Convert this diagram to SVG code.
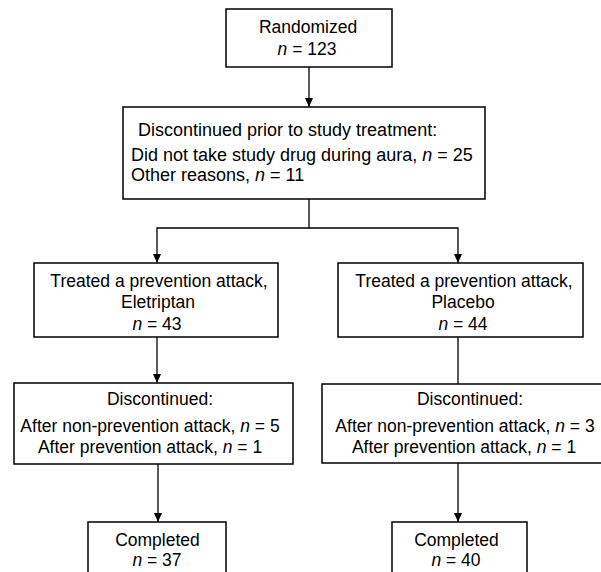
<svg xmlns="http://www.w3.org/2000/svg" width="601" height="572" viewBox="0 0 601 572">
<defs>
<marker id="arr" markerUnits="userSpaceOnUse" markerWidth="9" markerHeight="8" refX="9" refY="4" orient="auto">
<path d="M0,0 L9,4 L0,8 Z" fill="#000"/>
</marker>
<style>
.box{fill:#fff;stroke:#000;stroke-width:1.5}
.t{font-family:"Liberation Sans",Arial,Helvetica,sans-serif;font-size:17.5px;fill:#000}
.b{font-size:18px}
.c{text-anchor:middle}
.i{font-style:italic}
.ln{fill:none;stroke:#000;stroke-width:1.3}
</style>
</defs>
<rect width="601" height="572" fill="#fff"/>
<g id="connectors">
<line class="ln" x1="309" y1="67" x2="309" y2="107" marker-end="url(#arr)"/>
<polyline class="ln" points="309,199 309,228 157,228 157,263" marker-end="url(#arr)"/>
<polyline class="ln" points="309,228 458,228 458,263" marker-end="url(#arr)"/>
<line class="ln" x1="157" y1="337" x2="157" y2="383" marker-end="url(#arr)"/>
<line class="ln" x1="458" y1="337" x2="458" y2="384"/>
<line class="ln" x1="158" y1="464" x2="158" y2="522" marker-end="url(#arr)"/>
<line class="ln" x1="458" y1="463" x2="458" y2="522" marker-end="url(#arr)"/>
</g>
<g id="randomized">
<rect class="box" x="226" y="9" width="166" height="58"/>
<text class="t c" x="308" y="33">Randomized</text>
<text class="t c" x="307" y="55"><tspan class="i">n</tspan> = 123</text>
</g>
<g id="discontinued-prior">
<rect class="box" x="123" y="107" width="362" height="92"/>
<text class="t b" x="138" y="136">Discontinued prior to study treatment:</text>
<text class="t b" x="131" y="161">Did not take study drug during aura, <tspan class="i">n</tspan> = 25</text>
<text class="t b" x="131" y="181">Other reasons, <tspan class="i">n</tspan> = 11</text>
</g>
<g id="treated-eletriptan">
<rect class="box" x="34" y="263" width="244" height="74"/>
<text class="t c" x="159" y="287">Treated a prevention attack,</text>
<text class="t c" x="158" y="308">Eletriptan</text>
<text class="t c" x="157" y="330"><tspan class="i">n</tspan> = 43</text>
</g>
<g id="treated-placebo">
<rect class="box" x="338" y="263" width="245" height="74"/>
<text class="t c" x="464" y="287">Treated a prevention attack,</text>
<text class="t c" x="463" y="308">Placebo</text>
<text class="t c" x="463" y="330"><tspan class="i">n</tspan> = 44</text>
</g>
<g id="discontinued-eletriptan">
<rect class="box" x="14" y="383" width="279" height="81"/>
<text class="t c" x="160" y="405">Discontinued:</text>
<text class="t c" x="150" y="432">After non-prevention attack, <tspan class="i">n</tspan> = 5</text>
<text class="t c" x="150" y="453">After prevention attack, <tspan class="i">n</tspan> = 1</text>
</g>
<g id="discontinued-placebo">
<rect class="box" x="322" y="384" width="285" height="79"/>
<text class="t c" x="470" y="405">Discontinued:</text>
<text class="t c" x="465" y="432">After non-prevention attack, <tspan class="i">n</tspan> = 3</text>
<text class="t c" x="464" y="453">After prevention attack, <tspan class="i">n</tspan> = 1</text>
</g>
<g id="completed-eletriptan">
<rect class="box" x="88" y="522" width="138" height="60"/>
<text class="t c" x="157.5" y="546">Completed</text>
<text class="t c" x="157" y="566"><tspan class="i">n</tspan> = 37</text>
</g>
<g id="completed-placebo">
<rect class="box" x="392" y="522" width="135" height="60"/>
<text class="t c" x="456.5" y="546">Completed</text>
<text class="t c" x="456" y="566"><tspan class="i">n</tspan> = 40</text>
</g>
</svg>
